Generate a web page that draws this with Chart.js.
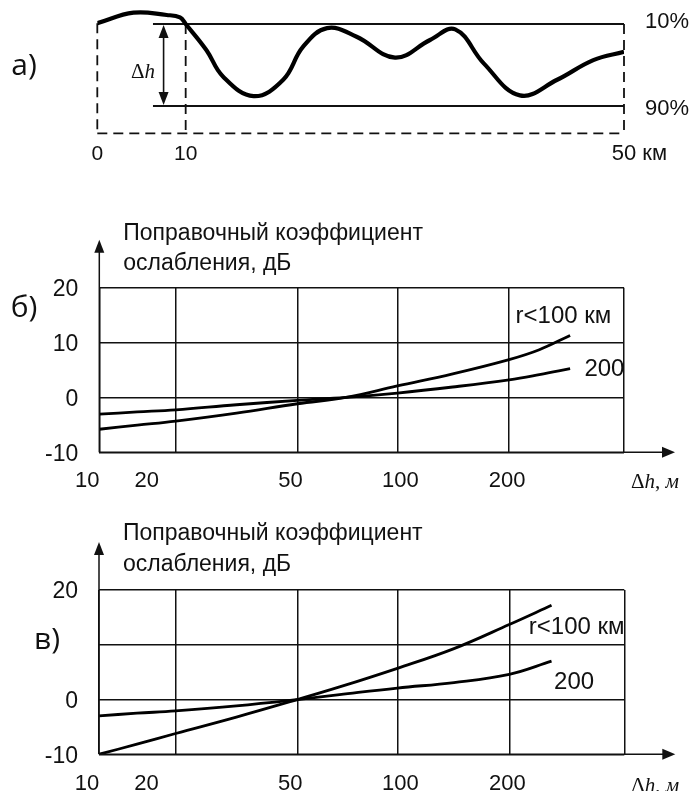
<!DOCTYPE html>
<html lang="ru">
<head>
<meta charset="UTF-8">
<title>Поправочный коэффициент ослабления</title>
<script src="https://cdn.jsdelivr.net/npm/chart.js@4/dist/chart.umd.min.js"></script>
<style>
  html, body { margin: 0; padding: 0; background: #fff; }
  body { width: 693px; height: 791px; position: relative; overflow: hidden; }
  canvas { position: absolute; left: 0; }
  #profile { top: 0; }
  #chartB { top: 180px; }
  #chartC { top: 510px; }
</style>
</head>
<body>
<canvas id="profile" width="693" height="180"></canvas>
<canvas id="chartB" width="693" height="330"></canvas>
<canvas id="chartC" width="693" height="281"></canvas>
<script>
// а) terrain profile, km / relative height (90% level = 0, 10% level = 100)
const profileKm = [0, 4.1, 7.85, 9.36, 10, 11.9, 13.4, 16.2, 18.9, 20.7, 22.9, 25.6, 29.1, 32.3, 34.6, 37.2, 40.5, 43.9, 47.2, 50];
const profileH = [101, 113.8, 111, 108, 100, 68, 36, 12, 32, 72, 95, 84.5, 59, 80.5, 93.5, 52, 13, 32, 56, 66];
const level10 = 100;
const level90 = 0;
const levelKm = [6.3, 50];
const dhArrowKm = 7.5;
const kmTicks = [0, 10, 50];
const kmLabels = ['0', '10', '50 км'];

// б) correction factor, dB
const dhB = [10, 14.1, 20, 31.6, 50, 70, 100, 141, 200, 240, 289];
const corrB100 = [-5.8, -5.05, -4.3, -2.85, -1.15, 0, 2.1, 4.3, 6.9, 8.7, 11.3];
const corrB200 = [-3.05, -2.65, -2.25, -1.33, -0.55, 0, 0.8, 1.9, 3.2, 4.15, 5.25];

// в) correction factor, dB
const dhC = [10, 14.1, 20, 31.6, 50, 67, 100, 142, 200, 258];
const corrC100 = [-10, -8.15, -6.2, -3.2, 0, 2.3, 5.7, 9.3, 13.7, 17.2];
const corrC200 = [-2.98, -2.5, -2.07, -1.15, 0, 0.9, 2.1, 3.1, 4.6, 7.0];

const dhTicks = [10, 20, 50, 100, 200, 400];
const dhLabels = ['10', '20', '50', '100', '200', ''];
const dbTicks = [-10, 0, 10, 20];
const dbLabelsB = ['-10', '0', '10', '20'];
const dbLabelsC = ['-10', '0', '', '20'];
const seriesNames = ['r<100 км', '200'];
const nameAnchorsB = [[208, 14.8], [315, 5.06]];
const nameAnchorsC = [[225, 13.2], [262, 3.1]];
const titleLines = ['Поправочный коэффициент', 'ослабления, дБ'];

// the drawn axes are not evenly spaced: place each tick where the figure has it
const dhFracs = [0, 0.1458, 0.3776, 0.568, 0.781, 1];
const kmFracs = [0, 0.1678, 1];
// the figure's x labels sit a little off their grid lines
const dhLabelShift = [-12, -29, -7, 3, -2, 0];

class StopScale extends Chart.LinearScale {
  _frac(v) {
    const s = this.options.stops, f = this.options.fracs;
    let i = 1;
    while (i < s.length - 1 && v > s[i]) i++;
    const a = s[i - 1], b = s[i];
    const t = this.options.logSegments ? Math.log(v / a) / Math.log(b / a) : (v - a) / (b - a);
    return f[i - 1] + t * (f[i] - f[i - 1]);
  }
  getPixelForValue(v) {
    if (v === null || v === undefined || isNaN(v)) return NaN;
    return this.getPixelForDecimal(this._frac(v));
  }
  getValueForPixel(p) {
    const d = this.getDecimalForPixel(p);
    const s = this.options.stops, f = this.options.fracs;
    let i = 1;
    while (i < f.length - 1 && d > f[i]) i++;
    const t = (d - f[i - 1]) / (f[i] - f[i - 1]);
    const a = s[i - 1], b = s[i];
    return this.options.logSegments ? a * Math.pow(b / a, t) : a + t * (b - a);
  }
}
StopScale.id = 'stops';
StopScale.defaults = {};
Chart.register(StopScale);

const SANS = "'Liberation Sans', Arial, sans-serif";
const SERIF = "'Liberation Serif', 'Times New Roman', serif";
const LETTER = "'Open Sans', sans-serif";

function line(ctx, x1, y1, x2, y2) {
  ctx.beginPath(); ctx.moveTo(x1, y1); ctx.lineTo(x2, y2); ctx.stroke();
}
function arrowHead(ctx, x, y, dx, dy, len, half) {
  ctx.beginPath();
  ctx.moveTo(x, y);
  ctx.lineTo(x - dx * len - dy * half, y - dy * len + dx * half);
  ctx.lineTo(x - dx * len + dy * half, y - dy * len - dx * half);
  ctx.closePath();
  ctx.fill();
}
function runs(ctx, x, y, parts) {
  parts.forEach(([txt, font]) => {
    ctx.font = font;
    ctx.fillText(txt, x, y);
    x += ctx.measureText(txt).width;
  });
}
const points = (xs, ys) => xs.map((x, i) => ({ x, y: ys[i] }));

// ---------- а) ----------
const profilePlugin = {
  id: 'profileDecor',
  beforeDatasetsDraw(chart) {
    const { ctx } = chart;
    const xs = chart.scales.x, ys = chart.scales.y;
    const px = (v) => xs.getPixelForValue(v), py = (v) => ys.getPixelForValue(v);
    ctx.save();
    ctx.strokeStyle = '#111';
    ctx.fillStyle = '#111';
    ctx.lineWidth = 1.8;
    [level10, level90].forEach((l) => line(ctx, px(levelKm[0]), py(l), px(levelKm[1]), py(l)));

    ctx.setLineDash([10, 6]);
    const yb = chart.chartArea.bottom;
    line(ctx, px(0), py(profileH[0]), px(0), yb);
    line(ctx, px(10), py(level10), px(10), yb);
    line(ctx, px(50), py(level10), px(50), yb);
    line(ctx, px(0), yb, px(50), yb);
    ctx.setLineDash([]);

    const ax = px(dhArrowKm), yt = py(level10) + 1, ybt = py(level90) - 1;
    ctx.lineWidth = 1.6;
    line(ctx, ax, yt + 10, ax, ybt - 10);
    arrowHead(ctx, ax, yt, 0, -1, 13, 5);
    arrowHead(ctx, ax, ybt, 0, 1, 13, 5);
    ctx.restore();
  },
  afterDraw(chart) {
    const { ctx } = chart;
    const xs = chart.scales.x, ys = chart.scales.y;
    ctx.save();
    ctx.fillStyle = '#111';
    ctx.textBaseline = 'middle';

    ctx.font = '30px ' + LETTER;
    ctx.textAlign = 'center';
    ctx.fillText('а)', 24, 66);

    ctx.textAlign = 'left';
    runs(ctx, 131, 72, [['Δ', '21px ' + SERIF], ['h', 'italic 21px ' + SERIF]]);

    const ty = chart.chartArea.bottom + 21;
    kmTicks.forEach((v, i) => {
      const x = xs.getPixelForValue(v);
      if (i < kmTicks.length - 1) {
        ctx.font = '21px ' + SANS;
        ctx.textAlign = 'center';
        ctx.fillText(kmLabels[i], x, ty);
      } else {
        ctx.font = '22px ' + SANS;
        ctx.textAlign = 'left';
        const num = kmLabels[i].split(' ')[0];
        ctx.fillText(kmLabels[i], x - ctx.measureText(num).width / 2, ty);
      }
    });

    ctx.font = '22px ' + SANS;
    ctx.textAlign = 'left';
    const lx = xs.getPixelForValue(50) + 21;
    ctx.fillText('10%', lx, ys.getPixelForValue(level10) - 2);
    ctx.fillText('90%', lx, ys.getPixelForValue(level90) + 3);
    ctx.restore();
  }
};

new Chart(document.getElementById('profile'), {
  type: 'line',
  data: {
    datasets: [{
      data: points(profileKm, profileH),
      borderColor: '#000',
      borderWidth: 4.2,
      pointRadius: 0,
      tension: 0.4,
      fill: false
    }]
  },
  options: {
    responsive: false,
    animation: false,
    events: [],
    layout: { padding: { left: 97.3, right: 69, top: 8, bottom: 46.7 } },
    plugins: { legend: { display: false }, tooltip: { enabled: false } },
    scales: {
      x: { type: 'stops', display: false, min: 0, max: 50, stops: kmTicks, fracs: kmFracs, logSegments: false },
      y: { display: false, min: -33.3, max: 119.5 }
    }
  },
  plugins: [profilePlugin]
});

// ---------- б), в) ----------
function graphPlugin(cfg) {
  return {
    id: 'graphDecor',
    afterDraw(chart) {
      const { ctx, chartArea: a } = chart;
      const xs = chart.scales.x, ys = chart.scales.y;
      ctx.save();
      ctx.strokeStyle = '#111';
      ctx.fillStyle = '#111';
      ctx.lineWidth = 1.5;

      // axes with arrows
      line(ctx, a.left, a.bottom, a.right + 40, a.bottom);
      arrowHead(ctx, a.right + 51, a.bottom, 1, 0, 13, 5.5);
      line(ctx, a.left, a.bottom, a.left, a.top - 38);
      arrowHead(ctx, a.left, a.top - 48, 0, -1, 13, 5);

      ctx.textBaseline = 'middle';
      ctx.font = '23px ' + SANS;
      ctx.textAlign = 'right';
      dbTicks.forEach((v, i) => {
        if (cfg.yLabels[i]) ctx.fillText(cfg.yLabels[i], a.left - 21, ys.getPixelForValue(v) + 2);
      });

      ctx.font = '22px ' + SANS;
      ctx.textAlign = 'center';
      const ty = a.bottom + cfg.xLabelDy;
      dhTicks.forEach((v, i) => {
        if (dhLabels[i]) ctx.fillText(dhLabels[i], xs.getPixelForValue(v) + dhLabelShift[i], ty);
      });

      ctx.textAlign = 'left';
      runs(ctx, a.right + 7, ty + 2, [
        ['Δ', '21px ' + SERIF], ['h', 'italic 21px ' + SERIF],
        [', ', '21px ' + SERIF], ['м', 'italic 21px ' + SERIF]
      ]);

      ctx.font = '23px ' + SANS;
      ctx.fillText(titleLines[0], a.left + 24, a.top - cfg.titleDy[0]);
      ctx.fillText(titleLines[1], a.left + 24, a.top - cfg.titleDy[1]);

      ctx.font = '24px ' + SANS;
      cfg.names.forEach(([xv, yv], i) => {
        ctx.fillText(seriesNames[i], xs.getPixelForValue(xv), ys.getPixelForValue(yv));
      });

      ctx.font = '30px ' + LETTER;
      ctx.textAlign = 'center';
      ctx.fillText(cfg.letter, cfg.letterPos[0], a.top + cfg.letterPos[1]);
      ctx.restore();
    }
  };
}

function makeGraph(id, xsData, ys100, ys200, pad, cfg) {
  const grid = { color: '#111', lineWidth: 1.5, drawTicks: false };
  const curve = (d) => ({
    data: d,
    borderColor: '#000',
    borderWidth: 2.8,
    pointRadius: 0,
    tension: 0.4,
    fill: false
  });
  return new Chart(document.getElementById(id), {
    type: 'line',
    data: { datasets: [curve(points(xsData, ys100)), curve(points(xsData, ys200))] },
    options: {
      responsive: false,
      animation: false,
      events: [],
      layout: { padding: pad },
      plugins: { legend: { display: false }, tooltip: { enabled: false } },
      scales: {
        x: {
          type: 'stops', min: 10, max: 400, stops: dhTicks, fracs: dhFracs, logSegments: true,
          afterBuildTicks: (s) => { s.ticks = dhTicks.map((v) => ({ value: v })); },
          ticks: { display: false }, border: { display: false }, grid
        },
        y: {
          min: -10, max: 20,
          afterBuildTicks: (s) => { s.ticks = dbTicks.map((v) => ({ value: v })); },
          ticks: { display: false }, border: { display: false }, grid
        }
      }
    },
    plugins: [graphPlugin(cfg)]
  });
}

makeGraph('chartB', dhB, corrB100, corrB200,
  { left: 99.3, right: 69, top: 107.7, bottom: 57.7 },
  { yLabels: dbLabelsB, xLabelDy: 28.5, titleDy: [54.4, 24.4], names: nameAnchorsB, letter: 'б)', letterPos: [24, 21] });

makeGraph('chartC', dhC, corrC100, corrC200,
  { left: 99, right: 68.7, top: 80, bottom: 36.7 },
  { yLabels: dbLabelsC, xLabelDy: 30, titleDy: [56, 25.7], names: nameAnchorsC, letter: 'в)', letterPos: [47, 50] });
</script>
</body>
</html>
